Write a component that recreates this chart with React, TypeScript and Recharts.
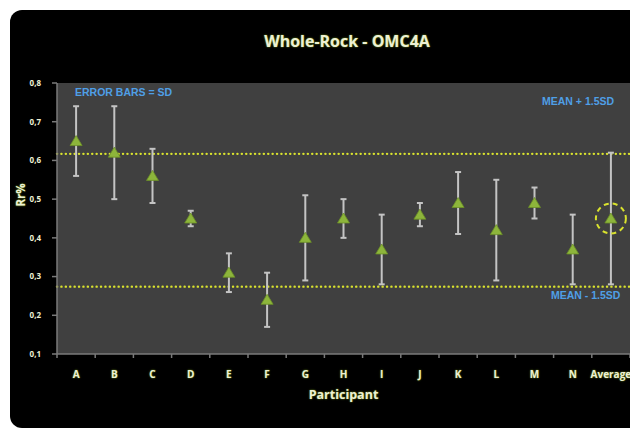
import React from 'react'
import {
  ComposedChart,
  Line,
  ErrorBar,
  XAxis,
  YAxis,
  CartesianGrid,
  ReferenceLine,
  ReferenceDot,
  Label,
} from 'recharts'

// participant labels along the x axis
const participants = ['A', 'B', 'C', 'D', 'E', 'F', 'G', 'H', 'I', 'J', 'K', 'L', 'M', 'N', 'Average']
// mean Rr% per participant
const rrMeans = [0.65, 0.62, 0.56, 0.45, 0.31, 0.24, 0.4, 0.45, 0.37, 0.46, 0.49, 0.42, 0.49, 0.37, 0.45]
// standard deviation per participant (error bars)
const rrSd = [0.09, 0.12, 0.07, 0.02, 0.05, 0.07, 0.11, 0.05, 0.09, 0.03, 0.08, 0.13, 0.04, 0.09, 0.17]
// mean +/- 1.5 SD limits
const upperLimit = 0.617
const lowerLimit = 0.274
const yTicks = [0.1, 0.2, 0.3, 0.4, 0.5, 0.6, 0.7, 0.8]

const data = participants.map((p, i) => ({ participant: p, rr: rrMeans[i], sd: rrSd[i] }))

const cream = '#eef0d4'
const glow = '0 0 2px #5f7a18, 0 0 1px #5f7a18'
const blue = '#4f9fe6'
const noteStyle: React.CSSProperties = {
  position: 'absolute',
  color: blue,
  fontSize: 10.5,
  fontWeight: 'bold',
  fontFamily: '"Liberation Sans", Arial, sans-serif',
  whiteSpace: 'nowrap',
}

const Triangle = (props: any) => {
  const { cx, cy } = props
  if (cx == null || cy == null) return null
  return (
    <path
      d={`M${cx},${cy - 5.5} L${cx + 6},${cy + 4.5} L${cx - 6},${cy + 4.5} Z`}
      fill="#8db53b"
      stroke="#6c9126"
      strokeWidth={0.8}
    />
  )
}

// x tick: label at band centre, tick mark at band boundaries
const ParticipantTick = (props: any) => {
  const { x, y, payload, width, visibleTicksCount, index } = props
  const half = width / visibleTicksCount / 2
  const axisY = y - 16
  return (
    <g>
      <line x1={x - half} y1={axisY} x2={x - half} y2={axisY + 4} stroke="#7a7a7a" strokeWidth={1.5} />
      {index === visibleTicksCount - 1 && (
        <line x1={x + half} y1={axisY} x2={x + half} y2={axisY + 4} stroke="#7a7a7a" strokeWidth={1.5} />
      )}
      <text
        x={x}
        y={y + 8}
        textAnchor="middle"
        fill={cream}
        fontSize={10}
        fontWeight="bold"
        style={{ textShadow: glow }}
      >
        {payload.value}
      </text>
    </g>
  )
}

const App = () => {
  return (
    <div style={{ position: 'fixed', left: 0, top: 0, width: 630, height: 429, background: '#fff', overflow: 'hidden', fontFamily: '"Open Sans", sans-serif' }}>
      <div style={{ position: 'absolute', left: 10, top: 10, width: 640, height: 418, background: '#000', borderRadius: 12 }} />

      <div style={{ position: 'absolute', left: 0, width: 694, top: 30, textAlign: 'center', color: cream, fontSize: 16, fontWeight: 'bold', textShadow: glow }}>
        Whole-Rock - OMC4A
      </div>

      <div style={{ position: 'absolute', left: 0, top: 0 }}>
        <ComposedChart width={630} height={429} data={data} margin={{ top: 83, right: 0, bottom: 45, left: 27 }}>
          <CartesianGrid horizontal={false} vertical={false} fill="#404040" />
          <XAxis
            dataKey="participant"
            scale="band"
            height={30}
            axisLine={{ stroke: '#7a7a7a', strokeWidth: 1.5 }}
            tickLine={false}
            tickSize={4}
            tickMargin={12}
            tick={<ParticipantTick />}
            interval={0}
          >
            <Label
              value="Participant"
              position="bottom"
              offset={6}
              fill={cream}
              fontSize={12.5}
              fontWeight="bold"
              style={{ textShadow: glow }}
            />
          </XAxis>
          <YAxis
            type="number"
            domain={[0.1, 0.8]}
            ticks={yTicks}
            width={30}
            axisLine={{ stroke: '#7a7a7a', strokeWidth: 1.5 }}
            tickLine={{ stroke: '#7a7a7a', strokeWidth: 1.5 }}
            tickSize={5}
            tickMargin={11}
            tickFormatter={(v: number) => v.toFixed(1).replace('.', ',')}
            tick={{ fill: cream, fontSize: 8, fontWeight: 'bold' }}
          />
          <ReferenceLine y={upperLimit} stroke="#d9e22e" strokeWidth={2.4} strokeDasharray="0.1 4.3" strokeLinecap="round" />
          <ReferenceLine y={lowerLimit} stroke="#d9e22e" strokeWidth={2.4} strokeDasharray="0.1 4.3" strokeLinecap="round" />
          <Line
            dataKey="rr"
            stroke="none"
            dot={<Triangle />}
            activeDot={false}
            isAnimationActive={false}
            legendType="none"
          >
            <ErrorBar dataKey="sd" direction="y" width={3} stroke="#c4c4c4" strokeWidth={2} />
          </Line>
          <ReferenceDot
            x="Average"
            y={rrMeans[rrMeans.length - 1]}
            r={15}
            fill="none"
            stroke="#d9e22e"
            strokeWidth={2}
            strokeDasharray="5 4"
          />
        </ComposedChart>
      </div>

      <div style={{ position: 'absolute', left: 10, top: 189, width: 20, textAlign: 'center', color: cream, fontSize: 11.5, fontWeight: 'bold', textShadow: glow, transform: 'rotate(-90deg)' }}>
        Rr%
      </div>

      <div style={{ ...noteStyle, left: 75, top: 86 }}>ERROR BARS = SD</div>
      <div style={{ ...noteStyle, left: 542, top: 95 }}>MEAN + 1.5SD</div>
      <div style={{ ...noteStyle, left: 551, top: 289 }}>MEAN - 1.5SD</div>
    </div>
  )
}

export default App
